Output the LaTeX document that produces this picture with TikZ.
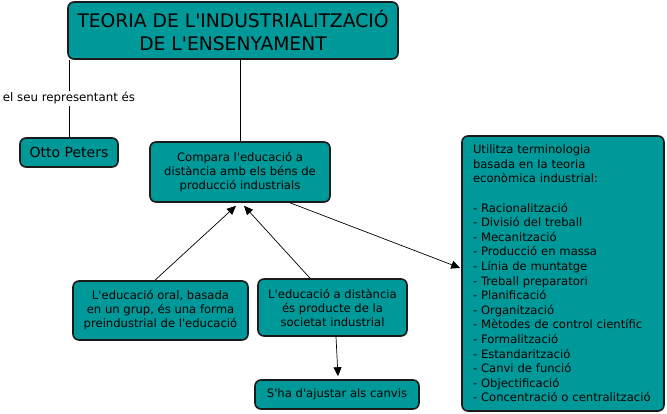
\documentclass[tikz,border=0pt]{standalone}
\usepackage{fontspec}
\setmainfont{DejaVu Sans}[Ligatures=TeXOff]
\usepackage{tikz}
\usetikzlibrary{arrows.meta,positioning}

\definecolor{conceptfill}{HTML}{009999}
\definecolor{conceptline}{HTML}{1A1A1A}

\begin{document}
\begin{tikzpicture}[x=1pt, y=-1pt,
		>={Triangle[length=9pt,width=8pt]},
		concept/.style = {draw=conceptline, line width=1.6pt, fill=conceptfill, rounded corners=6pt,
			inner sep=2pt, align=center, font=\fontsize{11.6}{14}\selectfont},
		link/.style = {draw=black, line width=0.7pt},
		linklabel/.style = {fill=white, inner sep=2pt, font=\fontsize{11.8}{14}\selectfont}
		]
		\useasboundingbox (0,0) rectangle (667,414);
		
		\node (teoria) [concept, minimum width=330pt, minimum height=57pt, font=\fontsize{18.7}{23}\selectfont] at (233,30.5)
			{TEORIA DE L'INDUSTRIALITZACIÓ\\DE L'ENSENYAMENT};
		\node (otto) [concept, minimum width=98pt, minimum height=29pt, font=\fontsize{14}{16}\selectfont] at (69,152.5) {Otto Peters};
		\node (compara) [concept, minimum width=180pt, minimum height=60pt] at (240,172)
			{Compara l'educació a\\distància amb els béns de\\producció industrials};
		\node (oral) [concept, minimum width=175pt, minimum height=59pt] at (160.5,310.5)
			{L'educació oral, basada\\en un grup, és una forma\\preindustrial de l'educació};
		\node (distancia) [concept, minimum width=149pt, minimum height=57pt] at (332.5,307.5)
			{L'educació a distància\\és producte de la\\societat industrial};
		\node (canvis) [concept, minimum width=164pt, minimum height=29pt] at (337,394.5) {S'ha d'ajustar als canvis};
		\node (termes) [concept, minimum width=202pt, minimum height=275pt, text width=180pt, inner xsep=10pt, align=left,
			font=\fontsize{11.6}{14.6}\selectfont] at (563,273.5)
			{Utilitza terminologia\\basada en la teoria\\econòmica industrial:\\[14.6pt]
			- Racionalització\\- Divisió del treball\\- Mecanització\\- Producció en massa\\
			- Línia de muntatge\\- Treball preparatori\\- Planificació\\- Organització\\
			- Mètodes de control científic\\- Formalització\\- Estandarització\\- Canvi de funció\\
			- Objectificació\\- Concentració o centralització};
		
		% links
		\draw[link] (teoria.south -| otto.north) -- node[linklabel] {el seu representant és} (otto.north);
		\draw[link] (teoria.south -| compara.north) -- (compara.north);
		\draw[link,->] ([xshift=-5.5pt]oral.north) -- ([xshift=-4pt,yshift=-3pt]compara.south);
		\draw[link,->] ([xshift=-22.5pt]distancia.north) -- ([xshift=4pt,yshift=-3pt]compara.south);
		\draw[link,->] ([xshift=50pt]compara.south) -- ([yshift=5.5pt,xshift=-1pt]termes.west);
		\draw[link,->] ([xshift=3.5pt]distancia.south) -- ([xshift=1pt,yshift=3pt]canvis.north);
		
\end{tikzpicture}
\end{document}
